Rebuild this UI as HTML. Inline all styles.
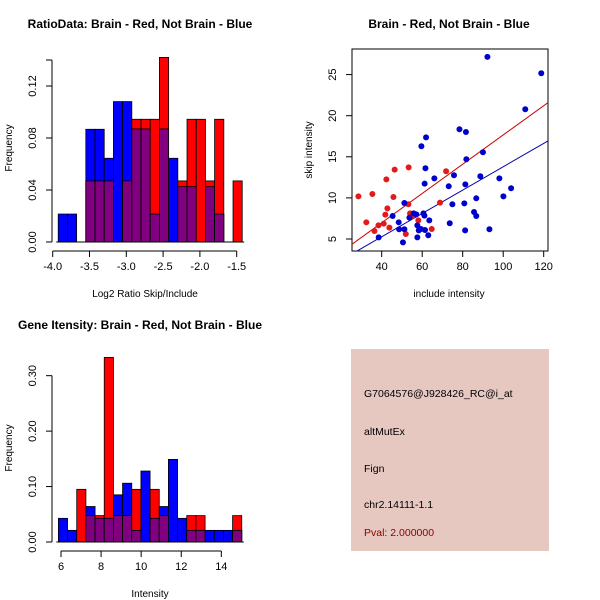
<!DOCTYPE html>
<html><head><meta charset="utf-8"><style>
body{margin:0;background:#fff}
svg{display:block;font-family:"Liberation Sans",sans-serif}
</style></head><body>
<svg id="c" width="600" height="600" xmlns="http://www.w3.org/2000/svg"></svg>
<script>
// Panel 1: ratio histogram
const ratioBinStart = -3.925, ratioBinWidth = 0.125;
const ratioBlue = [0.0215,0.0215,0,0.0867,0.0867,0.0644,0.108,0.108,0.087,0.087,0.0215,0.087,0.0644,0.0426,0.0426,0,0.0426,0.0215,0,0];
const ratioRed  = [0,0,0,0.047,0.047,0.047,0,0.047,0.0944,0.0944,0.0944,0.142,0,0.047,0.0944,0.0944,0.047,0.0944,0,0.047];
const ratioXTicks = [-4.0,-3.5,-3.0,-2.5,-2.0,-1.5];
const ratioXLabels = ["-4.0","-3.5","-3.0","-2.5","-2.0","-1.5"];
const ratioYTicks = [0,0.04,0.08,0.12];
const ratioYLabels = ["0.00","0.04","0.08","0.12"];
// Panel 2: scatter
const redInclude = [], redSkip = [], blueInclude = [], blueSkip = [];
const redPts3x = [[175,469],[199,547],[217,462],[223,573],[235,556],[251,551],[256,524],[259,418],[262,505],[268,563],[280,471],[284,389],[326,382],[325,493],[330,520],[335,530],[355,541],[317,582],[395,567],[420,488],[438,394]];
const bluePts3x = [[236,592],[278,528],[296,547],[297,568],[313,568],[309,607],[313,489],[328,533],[341,520],[349,523],[352,556],[352,592],[356,571],[363,567],[370,520],[373,527],[375,570],[388,541],[385,586],[364,319],[378,292],[376,385],[374,431],[403,415],[446,439],[449,550],[457,493],[462,406],[478,268],[498,276],[499,358],[493,490],[496,433],[495,571],[522,516],[529,475],[529,528],[541,409],[549,337],[562,51],[568,568],[598,415],[610,469],[633,445],[676,208],[724,100]];
for (const p of redPts3x){redInclude.push(+((p[0]-245)/486*80+40).toFixed(1));redSkip.push(+(5+(597-p[1])/493*20).toFixed(2));}
for (const p of bluePts3x){blueInclude.push(+((p[0]-245)/486*80+40).toFixed(1));blueSkip.push(+(5+(597-p[1])/493*20).toFixed(2));}
const redFit = [4.43, 0.178, 25.7];
const blueFit = [3.58, 0.142, 28.1];
const scXTicks = [40,60,80,100,120];
const scYTicks = [5,10,15,20,25];
// Panel 3: intensity histogram
const intBinStart = 5.87, intBinWidth = 0.4575;
const intBlue = [0.0427,0.021,0,0.064,0.0427,0.0427,0.0851,0.106,0.021,0.128,0.0427,0.064,0.149,0.0427,0.021,0.021,0.021,0.021,0.021,0.021];
const intRed  = [0,0,0.095,0.0476,0.0476,0.333,0.0476,0.0476,0.095,0,0.095,0.0476,0,0,0.0476,0.0476,0,0,0,0.0476];
const intXTicks = [6,8,10,12,14];
const intYTicks = [0,0.1,0.2,0.3];
const intYLabels = ["0.00","0.10","0.20","0.30"];

const svg = document.getElementById('c');
const NS = 'http://www.w3.org/2000/svg';
function mk(tag, attrs, parent){const e=document.createElementNS(NS,tag);for(const k in attrs)e.setAttribute(k,attrs[k]);(parent||svg).appendChild(e);return e;}
function txt(s,x,y,attrs){const e=mk('text',Object.assign({x:x,y:y,'font-size':11,fill:'#000'},attrs||{}));e.textContent=s;return e;}

function hist(g, start, w, blue, red, sx, sy){
  for(let i=0;i<blue.length;i++){
    const x0=sx(start+i*w), x1=sx(start+(i+1)*w);
    const b=blue[i], r=red[i], m=Math.min(b,r);
    if(b>0){const e=mk('rect',{x:x0,y:sy(b),width:x1-x0,height:sy(0)-sy(b),fill:'#0000ff',stroke:'#000','stroke-width':0.8},g);
      
      }
    if(r>0){const e=mk('rect',{x:x0,y:sy(r),width:x1-x0,height:sy(0)-sy(r),fill:'#ff0000',stroke:'#000','stroke-width':0.8},g);
      
      }
    if(m>0){const e=mk('rect',{x:x0,y:sy(m),width:x1-x0,height:sy(0)-sy(m),fill:'#800080',stroke:'#000','stroke-width':0.8},g);
      
      }
  }
}
function yAxis(g,x,ticks,labels,sy){
  mk('line',{x1:x,x2:x,y1:sy(ticks[0]),y2:sy(ticks[ticks.length-1]),stroke:'#000'},g);
  ticks.forEach((t,i)=>{const y=sy(t);mk('line',{x1:x-6,x2:x,y1:y,y2:y,stroke:'#000'},g);
    const e=txt(labels[i],x-16,y,{'text-anchor':'middle',transform:`rotate(-90 ${x-16} ${y})`});g.appendChild(e);
    
    });
}
function xAxis(g,y,ticks,labels,sx){
  mk('line',{x1:sx(ticks[0]),x2:sx(ticks[ticks.length-1]),y1:y,y2:y,stroke:'#000'},g);
  ticks.forEach((t,i)=>{const x=sx(t);mk('line',{x1:x,x2:x,y1:y,y2:y+6,stroke:'#000'},g);
    const e=txt(labels[i],x,y+19,{'text-anchor':'middle'});g.appendChild(e);
    
    });
}

// Panel 1
{
  const g=mk('g',{});
  
  
  const sx=v=>52.7+(v+4)*73.6, sy=v=>242-v*1300;
  hist(g,ratioBinStart,ratioBinWidth,ratioBlue,ratioRed,sx,sy);
  mk('line',{x1:sx(ratioBinStart)-2,x2:sx(ratioBinStart+20*ratioBinWidth)+2,y1:242,y2:242,stroke:'#000'},g);
  yAxis(g,52,ratioYTicks,ratioYLabels,sy);
  mk('line',{x1:52,x2:52,y1:sy(0.12),y2:sy(0.14),stroke:'#000'},g);
  mk('line',{x1:46,x2:52,y1:sy(0.14),y2:sy(0.14),stroke:'#000'},g);
  xAxis(g,251,ratioXTicks,ratioXLabels,sx);
  const t=txt('RatioData: Brain - Red, Not Brain - Blue',140,28,{'text-anchor':'middle','font-weight':'bold','font-size':12});
  
  const xl=txt('Log2 Ratio Skip/Include',145,297,{'text-anchor':'middle','font-size':10});
  
  const yl=txt('Frequency',12,148,{'text-anchor':'middle','font-size':10,transform:'rotate(-90 12 148)'});
  
}
// Panel 2
{
  const g=mk('g',{});
  
  
  const sx=v=>381.7+(v-40)*2.025, sy=v=>239-(v-5)*8.22;
  mk('rect',{x:352,y:49,width:196,height:202,fill:'none',stroke:'#000'},g);
  const cp=mk('clipPath',{id:'cp2'},g);mk('rect',{x:352,y:49,width:196,height:202},cp);
  const lg=mk('g',{'clip-path':'url(#cp2)'},g);
  [[redFit,'#cc0000','red-fit-line'],[blueFit,'#0000aa','blue-fit-line']].forEach(([f,c,n])=>{
    const xa=20,xb=130;const l=mk('line',{x1:sx(xa),y1:sy(f[0]+f[1]*(xa-f[2])),x2:sx(xb),y2:sy(f[0]+f[1]*(xb-f[2])),stroke:c,'stroke-width':1},lg);
    });
  redInclude.forEach((v,i)=>{const c=mk('circle',{cx:sx(v),cy:sy(redSkip[i]),r:3,fill:'#e31a1c'},g);
    });
  blueInclude.forEach((v,i)=>{const c=mk('circle',{cx:sx(v),cy:sy(blueSkip[i]),r:3,fill:'#0000cc'},g);
    });
  scXTicks.forEach(t=>{const x=sx(t);mk('line',{x1:x,x2:x,y1:251,y2:257,stroke:'#000'},g);
    const e=txt(String(t),x,270,{'text-anchor':'middle'});});
  scYTicks.forEach(t=>{const y=sy(t);mk('line',{x1:346,x2:352,y1:y,y2:y,stroke:'#000'},g);
    const e=txt(String(t),336,y,{'text-anchor':'middle',transform:`rotate(-90 336 ${y})`});});
  const t=txt('Brain - Red, Not Brain - Blue',449,28,{'text-anchor':'middle','font-weight':'bold','font-size':12});
  
  const xl=txt('include intensity',449,297,{'text-anchor':'middle','font-size':10});
  
  const yl=txt('skip intensity',312,150,{'text-anchor':'middle','font-size':10,transform:'rotate(-90 312 150)'});
  
}
// Panel 3
{
  const g=mk('g',{});
  
  
  const sx=v=>61+(v-6)*20.04, sy=v=>542-v*554.4;
  hist(g,intBinStart,intBinWidth,intBlue,intRed,sx,sy);
  mk('line',{x1:sx(intBinStart)-2,x2:sx(intBinStart+20*intBinWidth)+2,y1:542,y2:542,stroke:'#000'},g);
  yAxis(g,52,intYTicks,intYLabels,sy);
  xAxis(g,551,intXTicks,intXTicks.map(String),sx);
  const t=txt('Gene Itensity: Brain - Red, Not Brain - Blue',140,329,{'text-anchor':'middle','font-weight':'bold','font-size':12});
  
  const xl=txt('Intensity',150,597,{'text-anchor':'middle','font-size':10});
  
  const yl=txt('Frequency',12,448,{'text-anchor':'middle','font-size':10,transform:'rotate(-90 12 448)'});
  
}
// Panel 4
{
  const g=mk('g',{});
  
  
  mk('rect',{x:351,y:349,width:198,height:202,fill:'#e6c8c1'},g);
  const lines=[['G7064576@J928426_RC@i_at',397,'#000','probe-id'],['altMutEx',435,'#000','event-type'],['Fign',472,'#000','gene-name'],['chr2.14111-1.1',508,'#000','location'],['Pval: 2.000000',536,'#8b0000','p-value']];
  lines.forEach(l=>{const e=txt(l[0],364,l[1],{fill:l[2],'font-size':10.5});
    });
}
</script>
</body></html>
